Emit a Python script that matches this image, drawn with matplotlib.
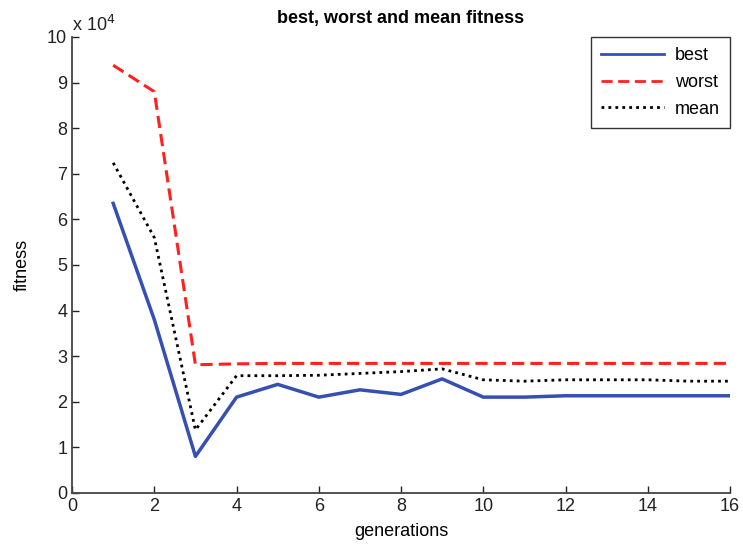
import matplotlib
matplotlib.use("Agg")
import matplotlib.pyplot as plt
from matplotlib.ticker import FuncFormatter, MultipleLocator
from matplotlib import font_manager

generations = list(range(1, 17))
best = [6.35e4, 3.8e4, 0.8e4, 2.1e4, 2.38e4, 2.1e4, 2.26e4, 2.16e4, 2.5e4, 2.1e4,
        2.1e4, 2.13e4, 2.13e4, 2.13e4, 2.13e4, 2.13e4]
worst = [9.38e4, 8.8e4, 2.81e4, 2.83e4, 2.84e4, 2.84e4, 2.84e4, 2.84e4, 2.84e4, 2.84e4,
         2.84e4, 2.84e4, 2.84e4, 2.84e4, 2.84e4, 2.84e4]
mean = [7.24e4, 5.6e4, 1.38e4, 2.57e4, 2.57e4, 2.58e4, 2.62e4, 2.66e4, 2.72e4, 2.48e4,
        2.45e4, 2.48e4, 2.48e4, 2.48e4, 2.45e4, 2.45e4]

names = {f.name for f in font_manager.fontManager.ttflist}
fam = ['Liberation Sans Narrow', 'Liberation Sans', 'DejaVu Sans']
plt.rcParams['font.family'] = [f for f in fam if f in names] or ['DejaVu Sans']

fig = plt.figure(figsize=(7.43, 5.44), dpi=100)
ax = fig.add_axes([0.097, 0.094, 0.8855, 0.838])

ax.plot(generations, best, color='#3550B0', lw=2.5, label='best')
ax.plot(generations, worst, color='#FF2020', lw=2.2, ls=(0, (4, 2)), label='worst')
ax.plot(generations, mean, color='black', lw=2.0, ls=(0, (1, 1.5)), label='mean')

ax.set_xlim(0, 16)
ax.set_ylim(0, 1e5)
ax.xaxis.set_major_locator(MultipleLocator(2))
ax.yaxis.set_major_locator(MultipleLocator(1e4))
ax.yaxis.set_major_formatter(FuncFormatter(lambda v, p: f"{v/1e4:g}"))
ax.tick_params(direction='in', length=5, labelsize=13, width=1, colors='#222222')
for s in ['top', 'right']:
    ax.spines[s].set_visible(False)
for s in ['left', 'bottom']:
    ax.spines[s].set_color('#444444')
    ax.spines[s].set_linewidth(1.3)

ax.text(0.0, 1.005, r"x 10$^4$", transform=ax.transAxes, fontsize=13,
        ha='left', va='bottom', color='#222222')
ax.set_title('best, worst and mean fitness', fontsize=13, fontweight='bold', pad=10)
ax.set_xlabel('generations', fontsize=13, labelpad=6)
ax.set_ylabel('fitness', fontsize=13, labelpad=12)

leg = ax.legend(loc='upper right', fontsize=13, frameon=True, fancybox=False,
                edgecolor='black', handlelength=3.5, handletextpad=0.6,
                borderpad=0.55, labelspacing=0.55,
                bbox_to_anchor=(1.0, 1.0), borderaxespad=0.0)
leg.get_frame().set_linewidth(1.0)
for l in leg.get_lines():
    l.set_linewidth(2.0)

fig.savefig('out.png', dpi=100)
